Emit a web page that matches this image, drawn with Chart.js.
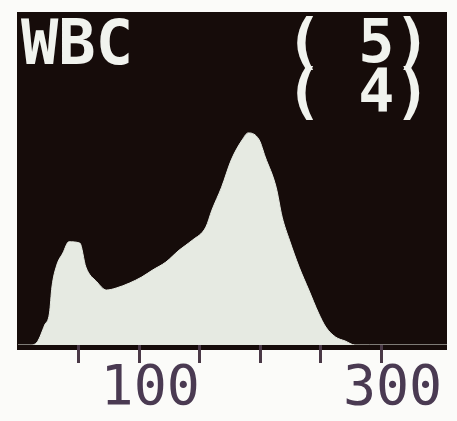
<!DOCTYPE html>
<html>
<head>
<meta charset="utf-8">
<script src="https://cdn.jsdelivr.net/npm/chart.js@4/dist/chart.umd.min.js"></script>
<style>
  html, body { margin: 0; padding: 0; background: #fbfbf9; }
  #wrap { width: 457px; height: 421px; }
</style>
</head>
<body>
<div id="wrap"><canvas id="c" width="457" height="421"></canvas></div>
<script>
// WBC histogram: cell volume (fL) against relative count
const cellVolume = [0, 10, 16, 22, 26, 28, 32, 37, 42, 51, 56, 65, 73, 81, 92, 102, 111, 122, 133, 144,
                    155, 160, 168, 176, 185, 190, 199, 204, 213, 218, 224, 232, 240, 248, 254, 262, 270, 278, 290, 354];
const relCount   = [0, 0, 1, 6, 9.6, 17.4, 24, 27.6, 31, 30.6, 23.4, 19, 16.5, 17.1, 18.6, 20.4, 22.5, 24.9, 28.5, 31.5,
                    35.4, 40.5, 47.4, 55.6, 61.6, 63.7, 61.6, 56.5, 47.4, 38.4, 31.5, 23.4, 16.5, 9.6, 5.4, 2.4, 1.2, 0, 0, 0];
const tickValues = [50, 100, 150, 200, 250, 300];
const tickLabels = ['100', '300'];
const titleText  = 'WBC';
const flagLines  = ['( 5)', '( 4)'];

const points = cellVolume.map((v, i) => ({ x: v, y: relCount[i] }));

// dark display panel behind the plot, running a few pixels below the baseline
const panel = {
  id: 'panel',
  beforeDraw(chart) {
    const { ctx, chartArea: a } = chart;
    ctx.save();
    ctx.fillStyle = '#160c0a';
    ctx.fillRect(a.left - 1, a.top, a.right - a.left + 1, a.bottom - a.top + 5);
    ctx.restore();
  }
};

// header text on the panel
const header = {
  id: 'header',
  afterDraw(chart) {
    const { ctx } = chart;
    ctx.save();
    ctx.fillStyle = '#f1f3ee';
    ctx.textBaseline = 'alphabetic';
    ctx.font = 'bold 62px "DejaVu Sans Mono"';
    ctx.fillText(titleText, 21, 64);
    ctx.font = 'bold 60px "DejaVu Sans Mono"';
    ctx.fillText(flagLines[0], 286, 62);
    ctx.fillText(flagLines[1], 286, 112);
    ctx.restore();
  }
};

new Chart(document.getElementById('c'), {
  type: 'line',
  data: {
    datasets: [{
      data: points,
      borderColor: '#e6eae2',
      backgroundColor: '#e6eae2',
      borderWidth: 1,
      fill: 'origin',
      pointRadius: 0,
      cubicInterpolationMode: 'monotone'
    }]
  },
  options: {
    responsive: false,
    animation: false,
    layout: { padding: { left: 18, right: 10, top: 12, bottom: 0 } },
    plugins: { legend: { display: false }, tooltip: { enabled: false } },
    scales: {
      x: {
        type: 'linear',
        min: 0,
        max: 354,
        afterFit(scale) { scale.height = 76; },
        afterBuildTicks(scale) { scale.ticks = tickValues.map(v => ({ value: v })); },
        border: { display: false },
        grid: {
          drawOnChartArea: false,
          tickLength: 18,
          tickWidth: 3,
          color: '#4a3947'
        },
        ticks: {
          autoSkip: false,
          maxRotation: 0,
          labelOffset: 11,
          padding: -6,
          color: '#4a3a52',
          font: { family: '"DejaVu Sans Mono"', size: 55 },
          callback: v => tickLabels.includes(String(v)) ? String(v) : ''
        }
      },
      y: { display: false, min: 0, max: 100 }
    }
  },
  plugins: [panel, header]
});
</script>
</body>
</html>
